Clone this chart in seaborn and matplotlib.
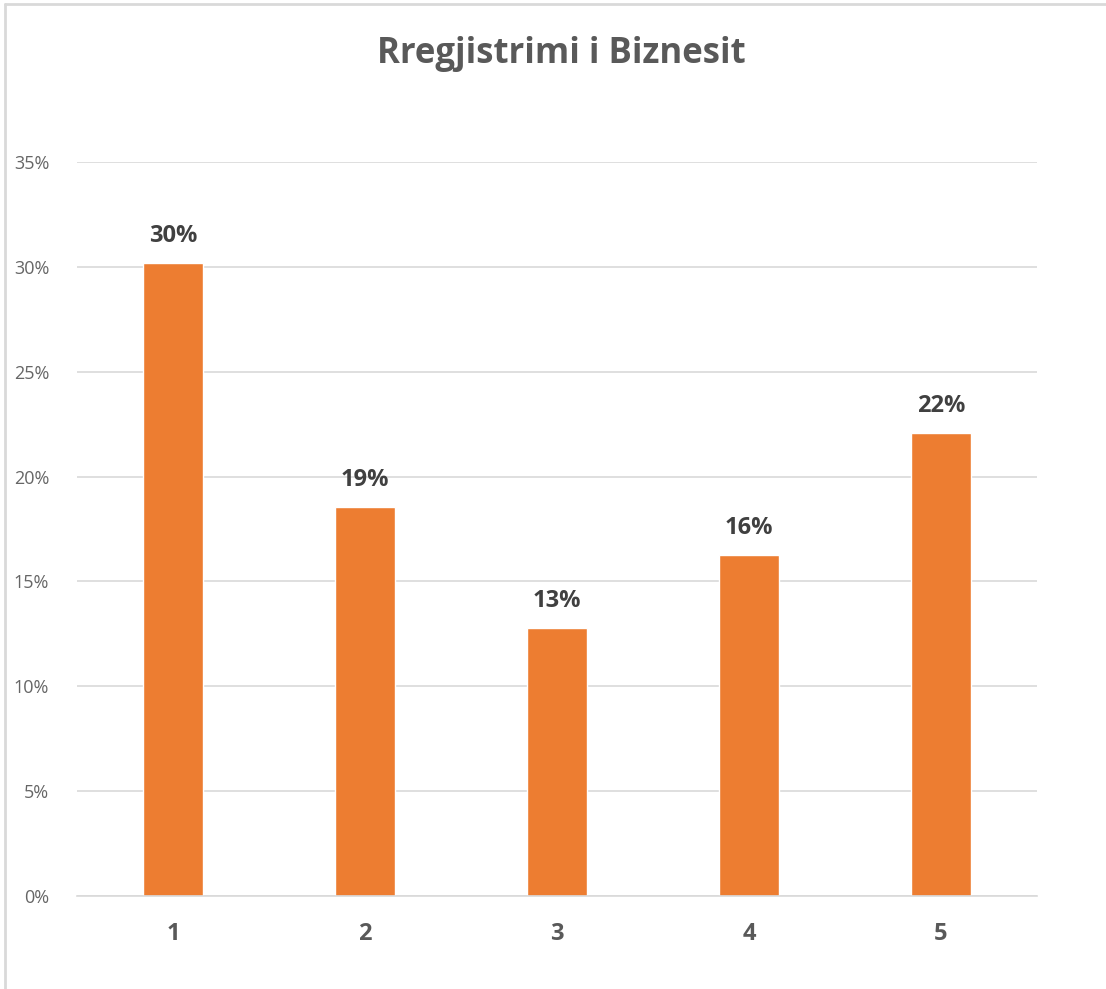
import matplotlib
matplotlib.use("Agg")
import matplotlib.pyplot as plt
import seaborn as sns
import pandas as pd
from matplotlib.lines import Line2D

# chart data
categories = ["1", "2", "3", "4", "5"]
shares = [0.3018, 0.1855, 0.1278, 0.1626, 0.2208]
value_labels = ["30%", "19%", "13%", "16%", "22%"]
y_ticks = [0, 0.05, 0.10, 0.15, 0.20, 0.25, 0.30, 0.35]
y_tick_labels = ["0%", "5%", "10%", "15%", "20%", "25%", "30%", "35%"]
title = "Rregjistrimi i Biznesit"

sns.set_theme(style="white")
plt.rcParams["font.family"] = ["Open Sans", "DejaVu Sans"]

df = pd.DataFrame({"category": categories, "share": shares})

fig = plt.figure(figsize=(11.06, 9.89), dpi=100)
ax = fig.add_axes([77 / 1106, 1 - 896 / 989, 960 / 1106, 734 / 989])

sns.barplot(data=df, x="category", y="share", color="#ED7D31",
            saturation=1, width=0.3125, ax=ax)

ax.set_ylim(0, 0.35)
ax.set_xlim(-0.5, 4.5)
ax.set_yticks(y_ticks)
ax.set_yticklabels(y_tick_labels, fontsize=13, color="#666666")
ax.set_xticklabels(categories, fontsize=17, fontweight="bold", color="#595959")
ax.tick_params(axis="y", length=0, pad=20)
ax.tick_params(axis="x", length=0, pad=19)
ax.set_xlabel("")
ax.set_ylabel("")

ax.yaxis.grid(True, color="#d9d9d9", linewidth=1.2)
ax.set_axisbelow(True)
for side in ["top", "right", "left"]:
    ax.spines[side].set_visible(False)
ax.spines["bottom"].set_color("#d9d9d9")
ax.spines["bottom"].set_linewidth(1.2)

for i, (v, lab) in enumerate(zip(shares, value_labels)):
    ax.annotate(lab, (i, v), xytext=(0, 11), textcoords="offset points",
                ha="center", va="bottom", fontsize=17, fontweight="bold",
                color="#404040")

fig.text(561 / 1106, 1 - 54 / 989, title, ha="center", va="center",
         fontsize=25, fontweight="bold", color="#595959")

# chart frame (top and left edges visible in the reference)
fig.add_artist(Line2D([5 / 1106, 5 / 1106], [0, 1 - 4 / 989],
                      transform=fig.transFigure, color="#d9d9d9", linewidth=2))
fig.add_artist(Line2D([5 / 1106, 1], [1 - 4 / 989, 1 - 4 / 989],
                      transform=fig.transFigure, color="#d9d9d9", linewidth=2))

fig.savefig("out.png", dpi=100, facecolor="white")
